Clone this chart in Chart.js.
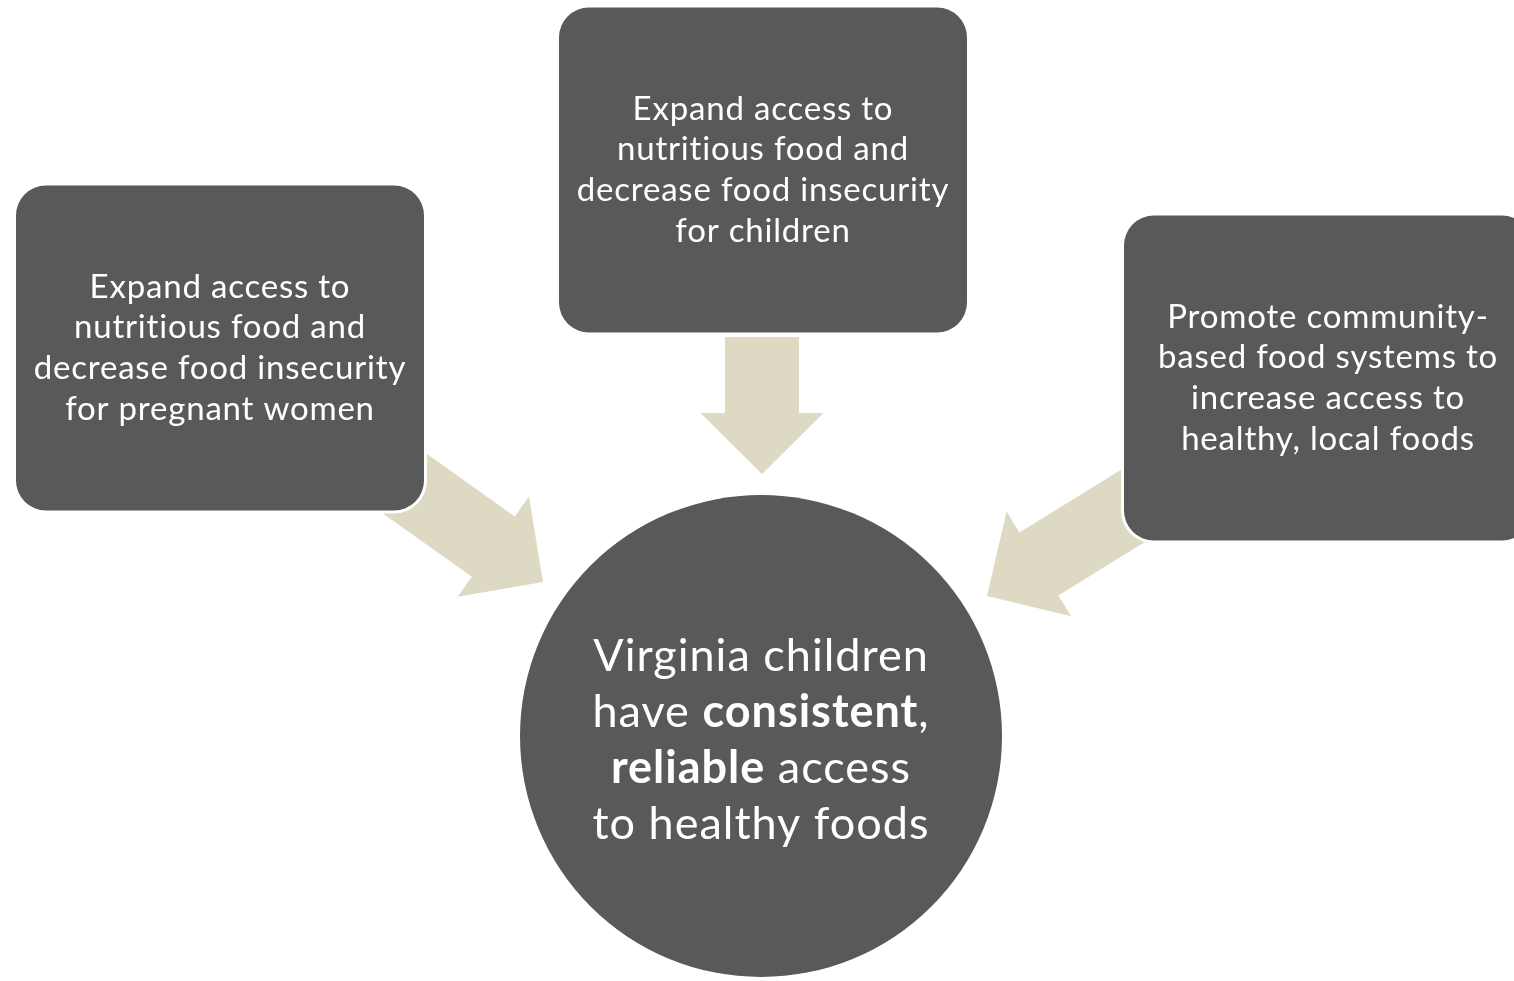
<!DOCTYPE html>
<html>
<head>
<meta charset="utf-8">
<script src="https://cdn.jsdelivr.net/npm/chart.js@4.4.1/dist/chart.umd.min.js"></script>
<style>
html, body { margin: 0; padding: 0; background: #ffffff; }
#wrap { width: 1514px; height: 981px; }
</style>
</head>
<body>
<div id="wrap"><canvas id="chartCanvas" width="1514" height="981"></canvas></div>
<script>
// diagram nodes (centres in diagram units, y grows downward)
const nodeX = [220, 763, 1328];
const nodeY = [348, 170, 378];
const nodeLines = [
    ["Expand access to", "nutritious food and", "decrease food insecurity", "for pregnant women"],
    ["Expand access to", "nutritious food and", "decrease food insecurity", "for children"],
    ["Promote community-", "based food systems to", "increase access to", "healthy, local foods"]
];

const goalX = [761];
const goalY = [736];
const goalLines = [
    [["Virginia children", false]],
    [["have ", false], ["consistent", true], [",", false]],
    [["reliable", true], [" access", false]],
    [["to healthy foods", false]]
];

// arrows: tail -> tip
const arrowFromX = [380, 762, 1157];
const arrowFromY = [466, 337, 491];
const arrowToX = [543, 762, 987];
const arrowToY = [582, 474, 596];

const BOX_FILL = "#595959";
const ARROW_FILL = "#ddd9c3";
const FONT = "Lato, 'Open Sans', sans-serif";

function roundRect(ctx, x, y, w, h, r) {
    ctx.beginPath();
    ctx.moveTo(x + r, y);
    ctx.lineTo(x + w - r, y);
    ctx.arcTo(x + w, y, x + w, y + r, r);
    ctx.lineTo(x + w, y + h - r);
    ctx.arcTo(x + w, y + h, x + w - r, y + h, r);
    ctx.lineTo(x + r, y + h);
    ctx.arcTo(x, y + h, x, y + h - r, r);
    ctx.lineTo(x, y + r);
    ctx.arcTo(x, y, x + r, y, r);
    ctx.closePath();
}

const diagramPlugin = {
    id: "diagram",
    afterDatasetsDraw(chart) {
        const ctx = chart.ctx;
        const xs = chart.scales.x, ys = chart.scales.y;
        const tails = chart.getDatasetMeta(0).data;
        const tips = chart.getDatasetMeta(1).data;
        const boxes = chart.getDatasetMeta(2).data;
        const goal = chart.getDatasetMeta(3).data;
        const ux = Math.abs(xs.getPixelForValue(1) - xs.getPixelForValue(0));
        const uy = Math.abs(ys.getPixelForValue(1) - ys.getPixelForValue(0));

        ctx.save();

        // arrows
        const shaftHalf = 37 * ux, headHalf = 61.5 * ux, headLen = 61 * uy;
        tails.forEach((t, i) => {
            const p = tips[i];
            const dx = p.x - t.x, dy = p.y - t.y;
            const len = Math.hypot(dx, dy);
            const d = [dx / len, dy / len];
            const n = [-d[1], d[0]];
            const bx = p.x - d[0] * headLen, by = p.y - d[1] * headLen;
            ctx.beginPath();
            ctx.moveTo(t.x + n[0] * shaftHalf, t.y + n[1] * shaftHalf);
            ctx.lineTo(bx + n[0] * shaftHalf, by + n[1] * shaftHalf);
            ctx.lineTo(bx + n[0] * headHalf, by + n[1] * headHalf);
            ctx.lineTo(p.x, p.y);
            ctx.lineTo(bx - n[0] * headHalf, by - n[1] * headHalf);
            ctx.lineTo(bx - n[0] * shaftHalf, by - n[1] * shaftHalf);
            ctx.lineTo(t.x - n[0] * shaftHalf, t.y - n[1] * shaftHalf);
            ctx.closePath();
            ctx.fillStyle = ARROW_FILL;
            ctx.fill();
        });

        // letter spacing also keeps Lato from joining "ti" into a ligature
        ctx.letterSpacing = "0.8px";

        // boxes
        const bw = 408 * ux, bh = 325 * uy, rad = 30 * ux, edge = 3;
        boxes.forEach((b, i) => {
            const x0 = b.x - bw / 2, y0 = b.y - bh / 2;
            roundRect(ctx, x0 - edge, y0 - edge, bw + 2 * edge, bh + 2 * edge, rad + edge);
            ctx.fillStyle = "#ffffff";
            ctx.fill();
            roundRect(ctx, x0, y0, bw, bh, rad);
            ctx.fillStyle = BOX_FILL;
            ctx.fill();

            const lines = nodeLines[i];
            const pitch = 40.7 * uy;
            ctx.fillStyle = "#ffffff";
            ctx.font = "33px " + FONT;
            ctx.textAlign = "center";
            ctx.textBaseline = "middle";
            lines.forEach((ln, k) => {
                ctx.fillText(ln, b.x, b.y + (k - (lines.length - 1) / 2) * pitch);
            });
        });

        // goal circle
        ctx.letterSpacing = "1px";
        goal.forEach(g => {
            const r = 241 * ux;
            ctx.beginPath();
            ctx.arc(g.x, g.y, r + 3, 0, Math.PI * 2);
            ctx.fillStyle = "#ffffff";
            ctx.fill();
            ctx.beginPath();
            ctx.arc(g.x, g.y, r, 0, Math.PI * 2);
            ctx.fillStyle = BOX_FILL;
            ctx.fill();

            const pitch = 56 * uy;
            ctx.fillStyle = "#ffffff";
            ctx.textBaseline = "middle";
            ctx.textAlign = "left";
            goalLines.forEach((segs, k) => {
                let total = 0;
                segs.forEach(s => {
                    ctx.font = (s[1] ? "bold " : "") + "45px " + FONT;
                    total += ctx.measureText(s[0]).width;
                });
                let x = g.x - total / 2;
                const y = g.y + 4 * uy + (k - (goalLines.length - 1) / 2) * pitch;
                segs.forEach(s => {
                    ctx.font = (s[1] ? "bold " : "") + "45px " + FONT;
                    ctx.fillText(s[0], x, y);
                    x += ctx.measureText(s[0]).width;
                });
            });
        });

        ctx.restore();
    }
};

function pts(xArr, yArr) {
    return xArr.map((x, i) => ({ x: x, y: yArr[i] }));
}

const chartCanvas = document.getElementById("chartCanvas");
new Chart(chartCanvas, {
    type: "scatter",
    data: {
        datasets: [
            { label: "arrow tails", data: pts(arrowFromX, arrowFromY), pointRadius: 0 },
            { label: "arrow tips", data: pts(arrowToX, arrowToY), pointRadius: 0 },
            { label: "strategies", data: pts(nodeX, nodeY), pointRadius: 0 },
            { label: "goal", data: pts(goalX, goalY), pointRadius: 0 }
        ]
    },
    options: {
        responsive: false,
        animation: false,
        devicePixelRatio: 1,
        layout: { padding: 0 },
        scales: {
            x: { type: "linear", min: 0, max: 1514, display: false },
            y: { type: "linear", min: 0, max: 981, reverse: true, display: false }
        },
        plugins: {
            legend: { display: false },
            tooltip: { enabled: false }
        }
    },
    plugins: [diagramPlugin]
});
</script>
</body>
</html>
